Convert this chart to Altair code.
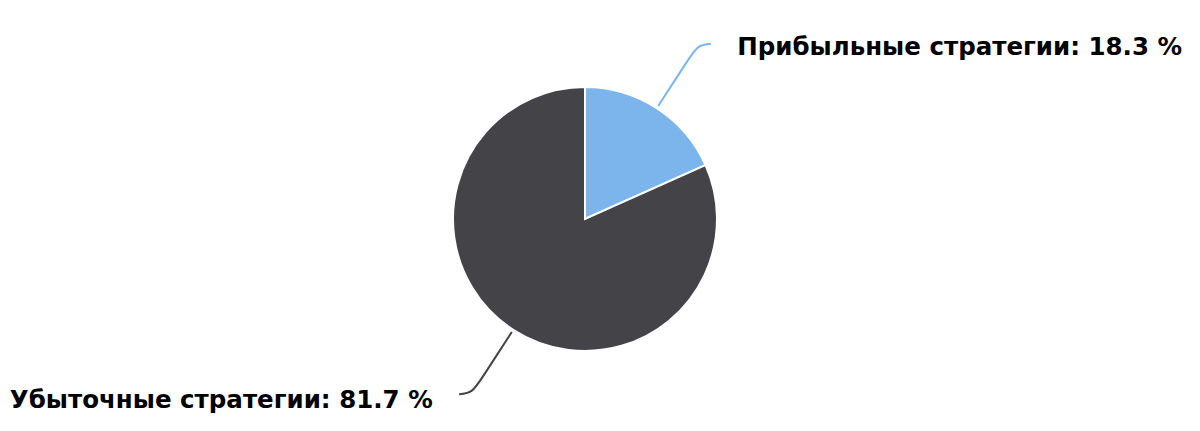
import math
import altair as alt
import pandas as pd

# slice data
categories = ["Прибыльные стратегии", "Убыточные стратегии"]
shares = [18.3, 81.7]
colors = ["#7cb5ec", "#434348"]

W, H = 1184, 415          # plot area
CX, CY, R = 577, 211, 132 # pie centre / radius in px

pie = pd.DataFrame({
    "cat": categories,
    "share": shares,
    "ord": list(range(len(categories))),
    "cx": 0.0,
    "cy": 0.0,
})

# connector + label anchors derived from the slice mid-angles (pie radius = 1 unit)
conn_rows, lab_rows = [], []
cum = 0.0
for cat, s in zip(categories, shares):
    m = 2 * math.pi * (cum + s / 2) / 100
    cum += s
    sx, cy_ = math.sin(m), math.cos(m)
    side = 1 if sx >= 0 else -1
    up = 1 if cy_ > 0 else -1
    corner = 1.57
    pts = [(1.02 * sx, 1.02 * cy_), (1.45 * sx, 1.45 * cy_),
           (corner * sx, corner * cy_), (corner * sx + side * 0.1, corner * cy_ + up * 0.01)]
    for i, (px, py) in enumerate(pts):
        conn_rows.append({"cat": cat, "step": i, "x": px, "y": py})
    ex, ey = pts[-1]
    lab_rows.append({"cat": cat, "side": side, "x": ex + side * 0.2, "y": ey,
                     "label": f"{cat}: {s} %"})
conn = pd.DataFrame(conn_rows)
labs = pd.DataFrame(lab_rows)

xs = alt.Scale(domain=[-CX / R, (W - CX) / R], nice=False, zero=False)
ys = alt.Scale(domain=[-(H - CY) / R, CY / R], nice=False, zero=False)
col = alt.Color("cat:N", scale=alt.Scale(domain=categories, range=colors), legend=None)

arcs = alt.Chart(pie).mark_arc(outerRadius=R, stroke="white", strokeWidth=2).encode(
    theta=alt.Theta("share:Q", stack=True),
    order=alt.Order("ord:Q"),
    color=col,
    x=alt.X("cx:Q", scale=xs, axis=None),
    y=alt.Y("cy:Q", scale=ys, axis=None),
)

lines = alt.Chart(conn).mark_line(interpolate="basis", strokeWidth=2).encode(
    x=alt.X("x:Q", scale=xs, axis=None),
    y=alt.Y("y:Q", scale=ys, axis=None),
    color=col,
    order="step:Q",
)

txt_base = alt.Chart(labs).encode(
    x=alt.X("x:Q", scale=xs, axis=None),
    y=alt.Y("y:Q", scale=ys, axis=None),
    text="label:N",
)
txt_style = dict(font="DejaVu Sans", fontWeight="bold", fontSize=24.5, color="#000000",
                 baseline="middle")
txt_r = txt_base.transform_filter("datum.side > 0").mark_text(align="left", dy=4, **txt_style)
txt_l = txt_base.transform_filter("datum.side < 0").mark_text(align="right", dy=7, **txt_style)

chart = alt.layer(arcs, lines, txt_r, txt_l).properties(
    width=W, height=H, padding=0, autosize="none", background="white"
).configure_view(stroke=None)

chart.save("out.html", embed_options={"renderer": "svg", "actions": False})
